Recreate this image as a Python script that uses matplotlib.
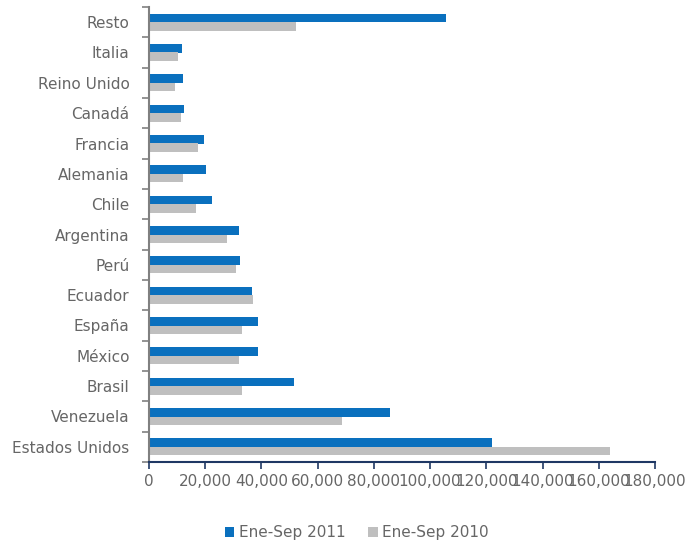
import matplotlib
matplotlib.use("Agg")
import matplotlib.pyplot as plt
import numpy as np
from matplotlib.ticker import FuncFormatter, MultipleLocator

categories = ["Estados Unidos", "Venezuela", "Brasil", "México", "España", "Ecuador",
              "Perú", "Argentina", "Chile", "Alemania", "Francia", "Canadá",
              "Reino Unido", "Italia", "Resto"]
s2011 = [121900, 85900, 51500, 38700, 38700, 36650, 32500, 31900, 22300, 20400,
         19600, 12300, 12100, 11700, 105600]
s2010 = [164000, 68800, 33100, 31900, 33100, 36900, 31000, 27600, 16600, 12100,
         17300, 11500, 9250, 10400, 52400]
series_names = ["Ene-Sep 2011", "Ene-Sep 2010"]

blue = "#0A70BE"
gray = "#BFBFBF"
txt = "#666666"

plt.rcParams['font.family'] = ['DejaVu Sans']
fig = plt.figure(figsize=(6.92, 5.44), dpi=100)
ax = fig.add_axes([149/692, 1 - 462/544, (655-149)/692, (462-7)/544])

y = np.arange(len(categories))
h = 0.275
ax.barh(y + h/2, s2011, height=h, color=blue, label=series_names[0])
ax.barh(y - h/2, s2010, height=h, color=gray, label=series_names[1])

ax.set_ylim(-0.5, len(categories) - 0.5)
ax.set_xlim(0, 180000)
ax.set_yticks(y)
ax.set_yticklabels(categories)
ax.set_yticks(np.arange(-0.5, len(categories), 1), minor=True)
ax.tick_params(axis='y', which='major', length=0, pad=14, labelsize=11, labelcolor=txt)
ax.tick_params(axis='y', which='minor', length=5, color="#808080", width=1.2)
ax.xaxis.set_major_locator(MultipleLocator(20000))
ax.xaxis.set_major_formatter(FuncFormatter(lambda v, p: f"{int(v):,}"))
ax.tick_params(axis='x', length=5, color="#1F3864", width=1.2, labelsize=11,
               labelcolor=txt, pad=4)

for s in ["top", "right"]:
    ax.spines[s].set_visible(False)
ax.spines["left"].set_color("#808080")
ax.spines["left"].set_linewidth(1.5)
ax.spines["bottom"].set_color("#1F3864")
ax.spines["bottom"].set_linewidth(1.5)

leg = fig.legend(loc="center", bbox_to_anchor=(357/692, 1 - 533/544), ncol=2,
                 frameon=False, fontsize=11, handlelength=0.6, handleheight=0.6,
                 handletextpad=0.3, columnspacing=1.5)
for t in leg.get_texts():
    t.set_color(txt)

fig.savefig("out.png", dpi=100)
